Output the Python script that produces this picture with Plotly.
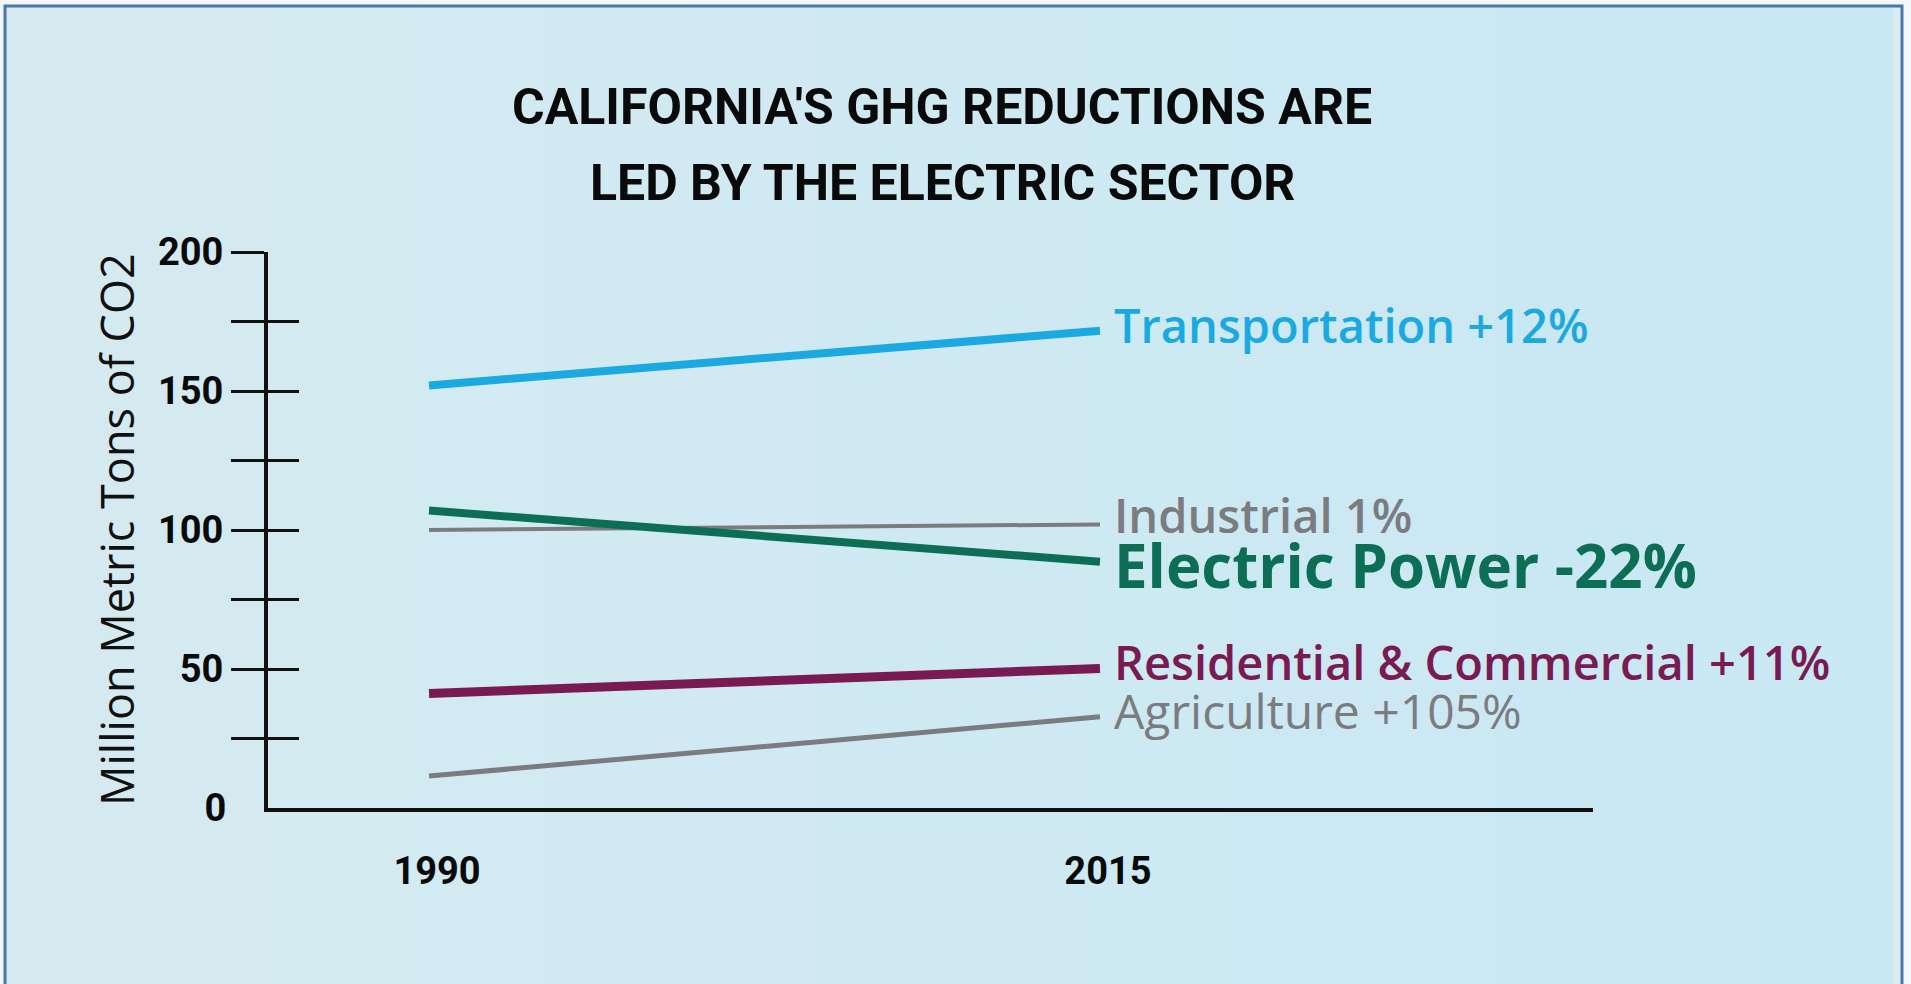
import plotly.graph_objects as go

# ---- data ----
years = [1990, 2015]
sectors = ["Transportation", "Industrial", "Electric Power", "Residential & Commercial", "Agriculture"]
transportation = [152, 171.7]
industrial = [100, 102]
electric_power = [107, 88.6]
residential_commercial = [41.2, 50.2]
agriculture = [11.5, 32.8]
labels = ["Transportation +12%", "Industrial 1%", "Electric Power -22%",
          "Residential & Commercial +11%", "Agriculture +105%"]
y_tick_vals = [25, 50, 75, 100, 125, 150, 175, 200]
y_tick_text = ["", "50", "", "100", "", "150", "", "200"]
y_zero_vals = [0]
y_zero_text = ["0"]
x_tick_text = ["1990", "2015"]
title_lines = ["CALIFORNIA'S GHG REDUCTIONS ARE", "LED BY THE ELECTRIC SECTOR"]
y_title = "Million Metric Tons of CO2"

series = [transportation, industrial, electric_power, residential_commercial, agriculture]

# ---- styles ----
colors = ["#1BA9E1", "#7B7B80", "#0B6E55", "#7A1A52", "#7B7B80"]
widths = [8, 4, 8, 9, 5]
axes_for = ["y", "y", "y2", "y2", "y3"]
label_sizes = [47, 47, 60, 47, 48]
label_weights = [600, 600, 700, 600, 500]
label_yshift = [6, 9, -3, 6, 6]
COND = "Roboto, Liberation Sans, sans-serif"
SANS = "Open Sans, Noto Sans, sans-serif"

W, H = 1911, 984
L, R, T, B = 268, W - 1593, 252, H - 808
PW, PH = W - L - R, H - T - B


def px(xpix):
    return (xpix - L) / PW


def py(ypix):
    return (H - B - ypix) / PH


fig = go.Figure()
for name, vals, c, w, ax in zip(sectors, series, colors, widths, axes_for):
    fig.add_trace(go.Scatter(x=years, y=vals, mode="lines", name=name, yaxis=ax,
                             line=dict(color=c, width=w), showlegend=False,
                             hoverinfo="skip"))

shapes = []
left_c = (213, 234, 240)
right_c = (200, 232, 244)
n = 14
fx0, fx1 = 5, 1902
for i in range(n):
    t = i / (n - 1)
    col = tuple(int(round(left_c[k] + (right_c[k] - left_c[k]) * t)) for k in range(3))
    shapes.append(dict(type="rect", xref="paper", yref="paper", layer="below",
                       x0=px(fx0 + (fx1 - fx0) * i / n), x1=px(fx0 + (fx1 - fx0) * (i + 1) / n + 1),
                       y0=py(H + 10), y1=py(6), line=dict(width=0),
                       fillcolor="rgb(%d,%d,%d)" % col))
shapes.append(dict(type="rect", xref="paper", yref="paper", layer="below",
                   x0=px(1893), x1=px(fx1), y0=py(H + 10), y1=py(8),
                   line=dict(width=0), fillcolor="#DCEDF2"))
shapes.append(dict(type="rect", xref="paper", yref="paper", layer="below",
                   x0=px(fx0), x1=px(fx1), y0=py(H + 10), y1=py(6),
                   line=dict(color="#4B77AA", width=3), fillcolor="rgba(0,0,0,0)"))

annotations = []
for lab, vals, c, s, wt, ys, ax in zip(labels, series, colors, label_sizes, label_weights,
                                        label_yshift, axes_for):
    annotations.append(dict(x=years[1], y=vals[1], xref="x", yref=ax, text=lab,
                            showarrow=False, xanchor="left", yanchor="middle",
                            xshift=12, yshift=ys,
                            font=dict(family=SANS, size=s, color=c, weight=wt)))
for line_text, ypix in zip(title_lines, [107, 183]):
    annotations.append(dict(x=px(942), y=py(ypix), xref="paper", yref="paper",
                            text=line_text, showarrow=False, xanchor="center", yanchor="middle",
                            font=dict(family=COND, size=50, color="#0A0A0A", weight=700)))
annotations.append(dict(x=px(116), y=py(530), xref="paper", yref="paper",
                        text=y_title, showarrow=False, textangle=-90,
                        xanchor="center", yanchor="middle",
                        font=dict(family=SANS, size=45, color="#111111")))

tickfont = dict(family=COND, size=38, color="#0A0A0A", weight=700)

fig.update_layout(
    width=W, height=H,
    margin=dict(l=L, r=R, t=T, b=B),
    paper_bgcolor="#F3F7F9",
    plot_bgcolor="rgba(0,0,0,0)",
    shapes=shapes,
    annotations=annotations,
    xaxis=dict(range=[1984.0, 2033.37], showgrid=False, zeroline=False,
               showline=True, linecolor="#111111", linewidth=4,
               tickvals=years, ticktext=x_tick_text,
               ticks="outside", ticklen=26, tickcolor="rgba(0,0,0,0)",
               ticklabelshift=8, tickfont=tickfont),
    yaxis=dict(range=[0, 200], showgrid=False, zeroline=False,
               showline=True, linecolor="#111111", linewidth=4,
               tickvals=y_tick_vals, ticktext=y_tick_text,
               ticks="outside", ticklen=33, tickwidth=3, tickcolor="#111111",
               tickfont=tickfont),
    yaxis2=dict(range=[0, 200], overlaying="y", anchor="x", side="left",
                showgrid=False, zeroline=False, showline=False,
                tickvals=y_tick_vals, showticklabels=False,
                ticks="inside", ticklen=31, tickwidth=3, tickcolor="#111111"),
    yaxis3=dict(range=[0, 200], overlaying="y", anchor="x", side="left",
                showgrid=False, zeroline=False, showline=False,
                tickvals=y_zero_vals, ticktext=y_zero_text,
                ticks="outside", ticklen=33, tickcolor="rgba(0,0,0,0)",
                tickfont=tickfont),
)

fig.write_html("out.html")
